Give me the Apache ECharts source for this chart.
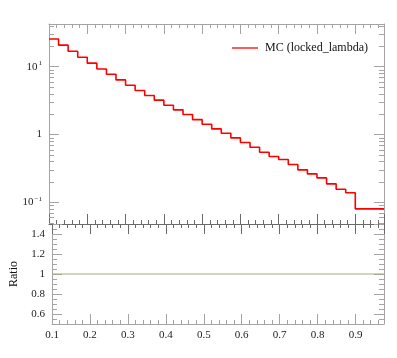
<!DOCTYPE html>
<html><head><meta charset="utf-8">
<script src="https://cdn.jsdelivr.net/npm/echarts@6/dist/echarts.min.js"></script>
<style>html,body{margin:0;padding:0;background:#fff}#c{width:397px;height:358px}</style>
</head><body><div id="c"></div>
<script>
// bin edges (x)
const binEdges = [0.1,0.125,0.15,0.175,0.2,0.225,0.25,0.275,0.3,0.325,0.35,0.375,0.4,0.425,0.45,0.475,0.5,0.525,0.55,0.575,0.6,0.625,0.65,0.675,0.7,0.725,0.75,0.775,0.8,0.825,0.85,0.875,0.9,0.975];
// MC (locked_lambda) bin contents
const mcValues = [25.7,20.8,16.9,13.8,11.3,9.28,7.75,6.39,5.33,4.46,3.76,3.21,2.70,2.31,1.97,1.66,1.42,1.21,1.045,0.891,0.762,0.650,0.548,0.474,0.428,0.361,0.301,0.262,0.229,0.187,0.156,0.138,0.080];
// ratio MC/MC
const ratioValues = [1,1,1,1,1,1,1,1,1,1,1,1,1,1,1,1,1,1,1,1,1,1,1,1,1,1,1,1,1,1,1,1,1];
const xTickLabels = ['0.1','0.2','0.3','0.4','0.5','0.6','0.7','0.8','0.9'];
const ratioTickLabels = ['0.6','0.8','1','1.2','1.4'];
const seriesName = 'MC (locked_lambda)';

const X_MIN = 0.1, X_MAX = 0.975;
const Y_MIN = 0.0478, Y_MAX = 42.7;
const FRAME = '#a4a4a4', DARK = '#6a6a6a';
const FONT = '"Liberation Serif", "DejaVu Serif", serif';

function stepData(vals) {
  const d = vals.map((v, i) => [binEdges[i], v]);
  d.push([binEdges[binEdges.length - 1], vals[vals.length - 1]]);
  return d;
}
// log minor tick positions
const logMinor = [];
for (let e = -2; e <= 1; e++) for (let m = 2; m <= 9; m++) {
  const v = m * Math.pow(10, e);
  if (v > Y_MIN && v < Y_MAX) logMinor.push([X_MIN, v]);
}

const chart = echarts.init(document.getElementById('c'), null, {renderer: 'canvas'});
const xCommon = (grid, pos, showLabel, lineColor, tickColor) => ({
  type: 'value', gridIndex: grid, position: pos, min: X_MIN, max: X_MAX, interval: 0.1,
  axisLine: {show: true, lineStyle: {color: lineColor, width: 1}},
  axisTick: {show: true, inside: true, length: 10, lineStyle: {color: tickColor}},
  minorTick: {show: true, splitNumber: 5, length: 4, lineStyle: {color: tickColor}},
  splitLine: {show: false},
  axisLabel: {show: showLabel, showMaxLabel: false, margin: 6, fontFamily: FONT, fontSize: 11, color: '#222',
    formatter: v => { const i = Math.round((v - 0.1) / 0.1); return (Math.abs(v - 0.1 - i * 0.1) < 1e-6 && i >= 0 && i < xTickLabels.length) ? xTickLabels[i] : ''; }}
});
const logFmt = v => {
  const l = Math.log10(v), e = Math.round(l);
  if (Math.abs(l - e) > 1e-6) return '';
  if (e === 0) return '{b|1}';
  return '{b|10}{s|' + (e < 0 ? '\u2212' : '') + Math.abs(e) + '}';
};
const option = {
  animation: false,
  backgroundColor: '#fff',
  grid: [
    {left: 49, right: 13, top: 24, height: 200},
    {left: 49, right: 13, top: 224, height: 100}
  ],
  legend: {
    data: [{name: seriesName, icon: 'rect'}], left: 227, top: 37, itemWidth: 26, itemHeight: 1.6, itemGap: 0,
    itemStyle: {color: '#ff3030'},
    textStyle: {fontFamily: FONT, fontSize: 12, color: '#111', padding: [0, 0, 0, 2]}
  },
  xAxis: [
    xCommon(0, 'bottom', false, DARK, DARK),
    xCommon(0, 'top', false, FRAME, FRAME),
    xCommon(1, 'bottom', true, FRAME, FRAME),
    xCommon(1, 'top', false, DARK, DARK)
  ],
  yAxis: [
    {type: 'log', logBase: 10, gridIndex: 0, position: 'left', min: Y_MIN, max: Y_MAX,
     axisLine: {show: true, lineStyle: {color: FRAME}},
     axisTick: {show: true, inside: true, length: 10, lineStyle: {color: FRAME}},
     splitLine: {show: false},
     axisLabel: {showMinLabel: false, showMaxLabel: false, margin: 7, formatter: logFmt,
       rich: {b: {fontFamily: FONT, fontSize: 11, color: '#222', lineHeight: 14},
              s: {fontFamily: FONT, fontSize: 7, color: '#222', verticalAlign: 'top', lineHeight: 14, padding: [0, 0, 4, 1]}}}},
    {type: 'log', logBase: 10, gridIndex: 0, position: 'right', min: Y_MIN, max: Y_MAX,
     axisLine: {show: true, lineStyle: {color: FRAME}},
     axisTick: {show: true, inside: true, length: 10, lineStyle: {color: FRAME}},
     splitLine: {show: false}, axisLabel: {show: false}},
    {type: 'value', gridIndex: 1, position: 'left', min: 0.5, max: 1.5, splitNumber: 5,
     name: 'Ratio', nameLocation: 'middle', nameGap: 32, nameRotate: 90,
     nameTextStyle: {fontFamily: FONT, fontSize: 12, color: '#111'},
     axisLine: {show: true, lineStyle: {color: FRAME}},
     axisTick: {show: true, inside: true, length: 10, lineStyle: {color: FRAME}},
     minorTick: {show: true, splitNumber: 4, length: 5, lineStyle: {color: FRAME}},
     splitLine: {show: false},
     axisLabel: {showMinLabel: false, showMaxLabel: false, margin: 7, fontFamily: FONT, fontSize: 11, color: '#222',
       formatter: v => { const i = Math.round((v - 0.6) / 0.2); return (Math.abs(v - 0.6 - i * 0.2) < 1e-6 && i >= 0 && i < ratioTickLabels.length) ? ratioTickLabels[i] : ''; }}},
    {type: 'value', gridIndex: 1, position: 'right', min: 0.5, max: 1.5, splitNumber: 5,
     axisLine: {show: true, lineStyle: {color: FRAME}},
     axisTick: {show: true, inside: true, length: 10, lineStyle: {color: FRAME}},
     minorTick: {show: true, splitNumber: 4, length: 5, lineStyle: {color: FRAME}},
     splitLine: {show: false}, axisLabel: {show: false}}
  ],
  series: [
    {type: 'custom', name: 'minor', xAxisIndex: 0, yAxisIndex: 0, silent: true, z: 1,
     data: logMinor, encode: {x: 0, y: 1},
     renderItem: (params, api) => {
       const p = api.coord([X_MIN, api.value(1)]);
       const q = api.coord([X_MAX, api.value(1)]);
       const y = Math.round(p[1]) + 0.5;
       return {type: 'group', children: [
         {type: 'line', shape: {x1: p[0], y1: y, x2: p[0] + 5, y2: y}, style: {stroke: FRAME, lineWidth: 1}},
         {type: 'line', shape: {x1: q[0] - 5, y1: y, x2: q[0], y2: y}, style: {stroke: FRAME, lineWidth: 1}}
       ]};
     }},
    {type: 'line', name: seriesName, xAxisIndex: 0, yAxisIndex: 0, step: 'end', symbol: 'none',
     data: stepData(mcValues), lineStyle: {color: '#ff0000', width: 1.6}, itemStyle: {color: '#ff0000'}, z: 3},
    {type: 'line', name: 'ratio', xAxisIndex: 2, yAxisIndex: 2, step: 'end', symbol: 'none',
     data: stepData(ratioValues), lineStyle: {color: '#a9a97a', width: 1.2}, z: 3}
  ]
};
chart.setOption(option);
</script></body></html>
